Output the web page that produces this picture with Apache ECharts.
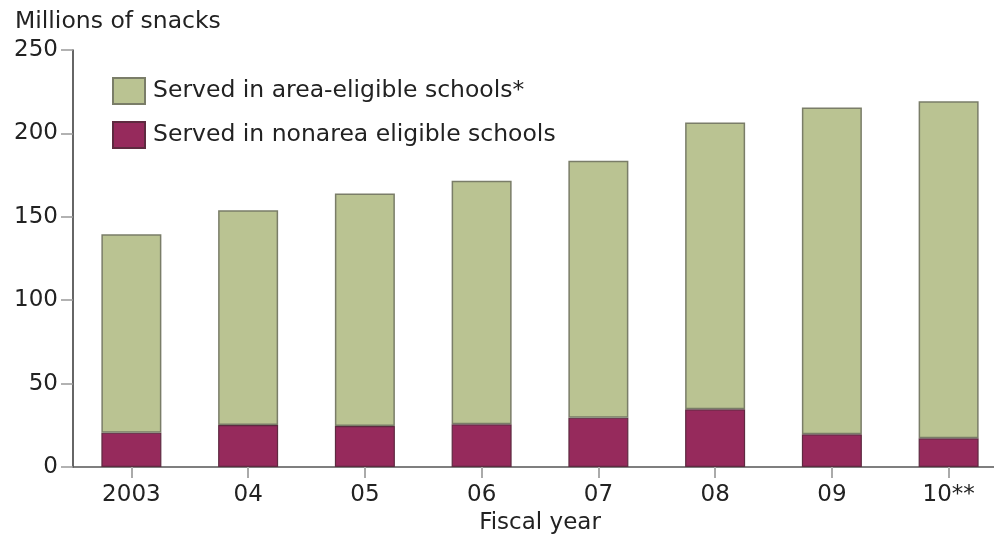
<!DOCTYPE html>
<html>
<head>
<meta charset="utf-8">
<script src="https://cdn.jsdelivr.net/npm/echarts@6/dist/echarts.min.js"></script>
<style>
html,body{margin:0;padding:0;background:#fff;overflow:hidden;}
#main{width:994px;height:544px;}
</style>
</head>
<body>
<div id="main"></div>
<script>
var categories = ['2003', '04', '05', '06', '07', '08', '09', '10**'];
var nonareaValues = [20.6, 25.2, 24.6, 25.6, 29.6, 34.6, 19.6, 17.2];
var areaValues = [119.0, 128.8, 139.4, 146.0, 154.0, 172.0, 196.0, 202.0];
var yTicks = [0, 50, 100, 150, 200, 250];
var seriesNames = ['Served in area-eligible schools*', 'Served in nonarea eligible schools'];

var FONT = 'DejaVu Sans';
var chart = echarts.init(document.getElementById('main'), null, {renderer: 'canvas', width: 994, height: 544});
chart.setOption({
  animation: false,
  backgroundColor: '#fff',
  title: {
    text: 'Millions of snacks',
    left: 10, top: 5,
    textStyle: {fontFamily: FONT, fontSize: 23.5, fontWeight: 'normal', color: '#222'}
  },
  legend: {
    orient: 'vertical',
    left: 112, top: 77,
    padding: 0,
    itemWidth: 32, itemHeight: 26, itemGap: 16,
    icon: 'rect',
    data: [seriesNames[0], seriesNames[1]],
    textStyle: {fontFamily: FONT, fontSize: 23.5, color: '#222', padding: [0, 0, 0, 3]}
  },
  grid: {left: 73, top: 50, width: 934, height: 417, containLabel: false, outerBoundsMode: 'none'},
  xAxis: {
    type: 'category',
    data: categories,
    name: 'Fiscal year',
    nameLocation: 'middle',
    nameGap: 44,
    nameTextStyle: {fontFamily: FONT, fontSize: 23, color: '#222'},
    axisLine: {lineStyle: {color: '#555', width: 1.5}},
    axisTick: {show: true, alignWithLabel: true, length: 11, lineStyle: {color: '#aaa', width: 2}},
    axisLabel: {fontFamily: FONT, fontSize: 23, color: '#222', margin: 17},
    splitLine: {show: false}
  },
  yAxis: {
    type: 'value',
    min: yTicks[0], max: yTicks[yTicks.length - 1], interval: 50,
    axisLine: {show: true, lineStyle: {color: '#333', width: 1.5}},
    axisTick: {show: true, length: 12, lineStyle: {color: '#999', width: 1.5}},
    axisLabel: {fontFamily: FONT, fontSize: 23, color: '#222', margin: 15},
    splitLine: {show: false}
  },
  series: [
    {
      name: seriesNames[1],
      type: 'bar',
      stack: 'total',
      barWidth: 60,
      data: nonareaValues,
      itemStyle: {color: '#962a5c', borderColor: '#5e2a40', borderWidth: 1.2}
    },
    {
      name: seriesNames[0],
      type: 'bar',
      stack: 'total',
      barWidth: 60,
      data: areaValues,
      itemStyle: {color: '#bac392', borderColor: '#7a7d68', borderWidth: 1.5}
    }
  ]
});
</script>
</body>
</html>
